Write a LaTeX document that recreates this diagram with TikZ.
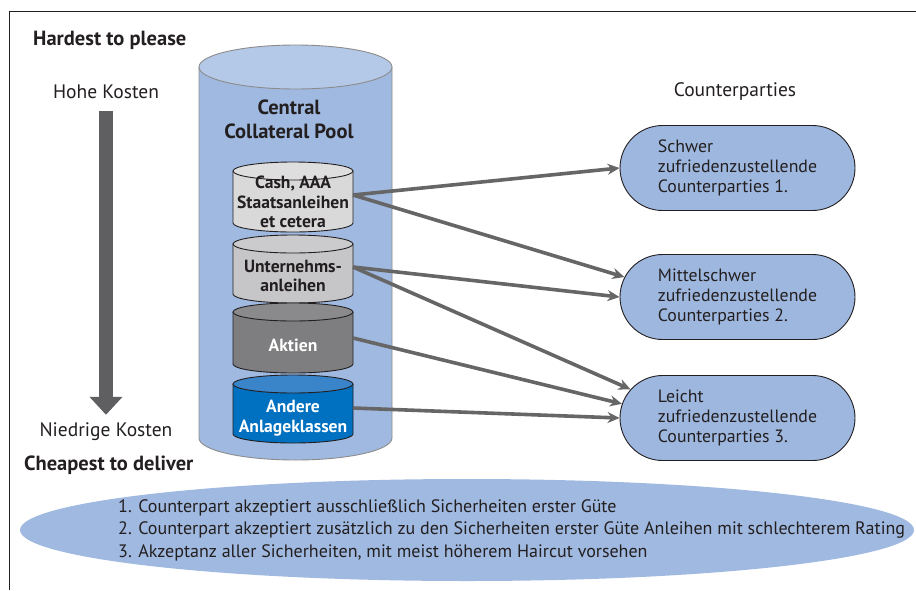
\documentclass[tikz,border=0pt]{standalone}
\usepackage{fontspec}
\setmainfont{PT Sans}
\usetikzlibrary{arrows.meta,shapes.misc}
\definecolor{txt}{HTML}{231F20}
\definecolor{poolbody}{HTML}{A0B9E0}
\definecolor{pooltop}{HTML}{B4C8E8}
\definecolor{cpfill}{HTML}{9EB7DF}
\definecolor{arrowgray}{HTML}{666666}
\definecolor{bigarrow}{HTML}{5F5F62}
\definecolor{cylA}{HTML}{D9D9D9}
\definecolor{cylAtop}{HTML}{DEDEDE}
\definecolor{cylB}{HTML}{C6C6C8}
\definecolor{cylBtop}{HTML}{CBCBCD}
\definecolor{cylC}{HTML}{7E7E80}
\definecolor{cylCtop}{HTML}{8A8A8C}
\definecolor{cylD}{HTML}{0070C0}
\definecolor{cylDtop}{HTML}{3A84CA}
\newcommand{\drawcyl}[8]{%
  \pgfmathsetmacro{\cyx}{(#1+#2)/2}%
  \pgfmathsetmacro{\cyr}{(#2-#1)/2}%
  \filldraw[fill=#6,draw=#8,line width=0.9pt] (#1,#3) -- (#1,#4)
     arc[start angle=180,end angle=360,x radius=\cyr pt,y radius=#5pt] -- (#2,#3);
  \filldraw[fill=#7,draw=#8,line width=0.9pt] (\cyx,#3) ellipse[x radius=\cyr pt,y radius=#5pt];
}
\tikzset{
  lbl/.style={text=txt,inner sep=0pt,font=\fontsize{19.5}{22}\selectfont},
  hdr/.style={text=txt,inner sep=0pt,font=\bfseries\fontsize{20.5}{24}\selectfont,anchor=west},
  cyltext/.style={text=txt,inner sep=0pt,align=center,font=\bfseries\fontsize{17.6}{19.5}\selectfont},
  cp/.style={rounded rectangle,draw=txt,line width=0.9pt,fill=cpfill,minimum width=235pt,
     minimum height=85pt,align=left,text=txt,inner sep=0pt,font=\fontsize{17.8}{20}\selectfont},
  conn/.style={draw=arrowgray,line width=3.6pt,-{Stealth[length=12pt,width=11pt]}},
}
\begin{document}
\begin{tikzpicture}[x=1pt,y=-1pt]
\useasboundingbox (0,0) rectangle (916,590);
% frame
\draw[draw=txt,line width=1pt] (9,590) -- (9,11) -- (916,11);
% headings
\node[hdr] (hard) at (33,40) {Hardest to please};
\node[hdr] (cheap) at (24,465) {Cheapest to deliver};
\node[lbl] (hohe) at (106,92) {Hohe Kosten};
\node[lbl] (niedrig) at (106,432) {Niedrige Kosten};
\draw[draw=bigarrow,line width=14pt,shorten <=12pt,shorten >=8pt,
      -{Triangle[length=18pt,width=32pt]}] (hohe) -- (niedrig);
% big cylinder
\drawcyl{199}{392}{67}{438}{22}{poolbody}{pooltop}{black!45}
\node[cyltext,font=\bfseries\fontsize{20.5}{24}\selectfont] (pool) at (289,119) {Central\\Collateral Pool};
% small cylinders
\drawcyl{233}{353}{171}{223}{9}{cylA}{cylAtop}{txt}
\node[cyltext] (c1) at (293,202) {Cash, AAA\\Staatsanleihen\\et cetera};
\drawcyl{233}{353}{244}{294}{9}{cylB}{cylBtop}{txt}
\node[cyltext] (c2) at (293,276) {Unternehms-\\anleihen};
\drawcyl{233}{353}{312}{364}{9}{cylC}{cylCtop}{txt}
\node[cyltext,text=white] (c3) at (293,345) {Aktien};
\drawcyl{233}{353}{384}{434}{9}{cylD}{cylDtop}{txt}
\node[cyltext,text=white] (c4) at (293,418) {Andere\\Anlageklassen};
\coordinate (s1) at (353,195);
\coordinate (s2) at (353,267);
\coordinate (s3) at (353,338);
\coordinate (s4) at (353,408);
% counterparties
\node[lbl] (cptitle) at (735,92) {Counterparties};
\node[cp] (cp1) at (737.5,168) {Schwer\\zufriedenzustellende\\Counterparties 1.};
\node[cp] (cp2) at (737.5,297) {Mittelschwer\\zufriedenzustellende\\Counterparties 2.};
\node[cp] (cp3) at (737.5,418) {Leicht\\zufriedenzustellende\\Counterparties 3.};
% connectors
\draw[conn] (s1) -- (cp1.west);
\draw[conn] (s1) -- (cp2.170);
\draw[conn] (s2) -- (cp2.west);
\draw[conn] (s2) -- (cp3.165);
\draw[conn] (s3) -- (cp3.173);
\draw[conn] (s4) -- (cp3.west);
% bottom ellipse
\fill[poolbody] (467,530) ellipse[x radius=447pt,y radius=51pt];
\node[text=txt,inner sep=0pt,align=left,anchor=west,font=\fontsize{18}{22.5}\selectfont] (notes) at (118,530)
 {1. Counterpart akzeptiert ausschließlich Sicherheiten erster Güte\\
  2. Counterpart akzeptiert zusätzlich zu den Sicherheiten erster Güte Anleihen mit schlechterem Rating\\
  3. Akzeptanz aller Sicherheiten, mit meist höherem Haircut vorsehen};
\end{tikzpicture}
\end{document}
